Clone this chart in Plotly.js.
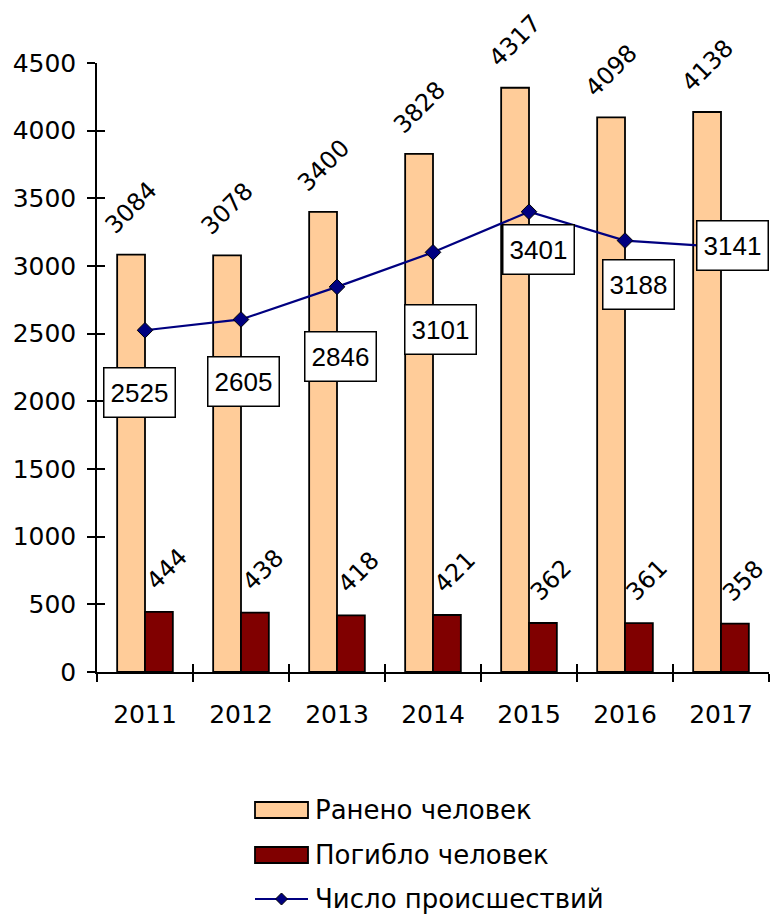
<!DOCTYPE html>
<html>
<head>
<meta charset="utf-8">
<script src="https://cdn.plot.ly/plotly-3.0.1.min.js"></script>
<style>html,body{margin:0;padding:0;background:#fff;}</style>
</head>
<body>
<div id="chart" style="width:770px;height:917px;"></div>
<script>
const years = ['2011', '2012', '2013', '2014', '2015', '2016', '2017'];
const injured = [3084, 3078, 3400, 3828, 4317, 4098, 4138];
const killed = [444, 438, 418, 421, 362, 361, 358];
const accidents = [2525, 2605, 2846, 3101, 3401, 3188, 3141];
const seriesNames = ['Ранено человек', 'Погибло человек', 'Число происшествий'];

// label box offsets in pixels (styling only)
const boxDX = [-6, 2, 3, 7, 9, 13, 11];
const boxDY = [62, 62, 70, 77, 38, 44, -1];

const FONT = 'DejaVu Sans';
const BOXFONT = 'Liberation Sans';
const COLORS = ['#FFCC99', '#800000', '#000080'];

const W = 770, H = 917;
const M = {l: 97, r: 1, t: 63, b: 245};
const PW = W - M.l - M.r, PH = H - M.t - M.b;
const px2x = (px) => (px - M.l) / PW;
const px2y = (py) => (H - M.b - py) / PH;

const traces = [
  {
    type: 'bar', name: seriesNames[0], x: years, y: injured, showlegend: false,
    marker: {color: COLORS[0], line: {color: '#000000', width: 1.8}}
  },
  {
    type: 'bar', name: seriesNames[1], x: years, y: killed, showlegend: false,
    marker: {color: COLORS[1], line: {color: '#000000', width: 1.8}}
  },
  {
    type: 'scatter', mode: 'lines+markers', name: seriesNames[2], x: years, y: accidents,
    showlegend: false,
    line: {color: COLORS[2], width: 2.2},
    marker: {symbol: 'diamond', size: 12, color: COLORS[2], line: {color: '#000000', width: 1}}
  },
  // empty helpers so the overlay axes (inner tick halves) get drawn
  {type: 'scatter', x: [], y: [], xaxis: 'x2', yaxis: 'y', showlegend: false, hoverinfo: 'skip'},
  {type: 'scatter', x: [], y: [], xaxis: 'x', yaxis: 'y2', showlegend: false, hoverinfo: 'skip'}
];

const annotations = [];
for (let i = 0; i < years.length; i++) {
  annotations.push({
    x: i, y: injured[i], xref: 'x', yref: 'y', text: String(injured[i]),
    showarrow: false, textangle: -45, xanchor: 'center', yanchor: 'bottom',
    xshift: -14, yshift: 12, font: {family: FONT, size: 24, color: '#000000'}
  });
  annotations.push({
    x: i, y: killed[i], xref: 'x', yref: 'y', text: String(killed[i]),
    showarrow: false, textangle: -45, xanchor: 'center', yanchor: 'bottom',
    xshift: 22, yshift: 14, font: {family: FONT, size: 24, color: '#000000'}
  });
  annotations.push({
    x: i, y: accidents[i], xref: 'x', yref: 'y', text: String(accidents[i]),
    showarrow: false, xanchor: 'center', yanchor: 'middle',
    xshift: boxDX[i], yshift: -boxDY[i],
    width: 68, height: 46, borderpad: 1,
    bgcolor: '#ffffff', bordercolor: '#000000', borderwidth: 1.5,
    font: {family: BOXFONT, size: 26, color: '#000000'}
  });
}

// manual legend (swatches sized like the reference)
const legX0 = 255, legX1 = 308, legTextX = 313;
const legY = [810, 855, 899];
const shapes = [];
for (let k = 0; k < 2; k++) {
  shapes.push({
    type: 'rect', xref: 'paper', yref: 'paper',
    x0: px2x(legX0), x1: px2x(legX1), y0: px2y(legY[k] + 8), y1: px2y(legY[k] - 8),
    fillcolor: COLORS[k], line: {color: '#000000', width: 1.8}, layer: 'above'
  });
}
shapes.push({
  type: 'line', xref: 'paper', yref: 'paper',
  x0: px2x(legX0), x1: px2x(legX1), y0: px2y(legY[2]), y1: px2y(legY[2]),
  line: {color: COLORS[2], width: 2.2}, layer: 'above'
});
const dc = (legX0 + legX1) / 2, dr = 6;
shapes.push({
  type: 'path', xref: 'paper', yref: 'paper',
  path: 'M' + px2x(dc - dr) + ',' + px2y(legY[2]) +
        'L' + px2x(dc) + ',' + px2y(legY[2] - dr) +
        'L' + px2x(dc + dr) + ',' + px2y(legY[2]) +
        'L' + px2x(dc) + ',' + px2y(legY[2] + dr) + 'Z',
  fillcolor: COLORS[2], line: {color: '#000000', width: 1}, layer: 'above'
});
for (let k = 0; k < 3; k++) {
  annotations.push({
    xref: 'paper', yref: 'paper', x: px2x(legTextX), y: px2y(legY[k]),
    xanchor: 'left', yanchor: 'middle', showarrow: false, text: seriesNames[k],
    font: {family: FONT, size: 26, color: '#000000'}
  });
}

const layout = {
  width: W, height: H,
  margin: {l: M.l, r: M.r, t: M.t, b: M.b, autoexpand: false},
  paper_bgcolor: '#ffffff', plot_bgcolor: '#ffffff',
  barmode: 'group', bargap: 0.42, bargroupgap: 0,
  showlegend: false,
  xaxis: {
    type: 'category', range: [-0.5, 6.5], tickson: 'boundaries',
    ticks: 'outside', ticklen: 8, tickwidth: 1.5, tickcolor: '#000000',
    showline: true, linecolor: '#000000', linewidth: 1.5,
    showgrid: false, zeroline: false, fixedrange: true,
    tickfont: {family: FONT, size: 25, color: '#000000'},
    ticklabelstandoff: 19
  },
  xaxis2: {
    overlaying: 'x', anchor: 'y', type: 'linear', range: [-0.5, 6.5],
    tick0: -0.5, dtick: 1, ticks: 'inside', ticklen: 8, tickwidth: 1.5, tickcolor: '#000000',
    showticklabels: false, showline: false, showgrid: false, zeroline: false, side: 'bottom'
  },
  yaxis: {
    range: [0, 4500], tick0: 0, dtick: 500,
    ticks: 'outside', ticklen: 8, tickwidth: 1.5, tickcolor: '#000000',
    showline: true, linecolor: '#000000', linewidth: 1.5,
    showgrid: false, zeroline: false, fixedrange: true,
    tickfont: {family: FONT, size: 25, color: '#000000'},
    ticklabelstandoff: 6
  },
  yaxis2: {
    overlaying: 'y', anchor: 'x', range: [0, 4500], tick0: 0, dtick: 500,
    ticks: 'inside', ticklen: 8, tickwidth: 1.5, tickcolor: '#000000',
    showticklabels: false, showline: false, showgrid: false, zeroline: false, side: 'left'
  },
  annotations: annotations,
  shapes: shapes
};

Plotly.newPlot('chart', traces, layout, {displayModeBar: false});
</script>
</body>
</html>
